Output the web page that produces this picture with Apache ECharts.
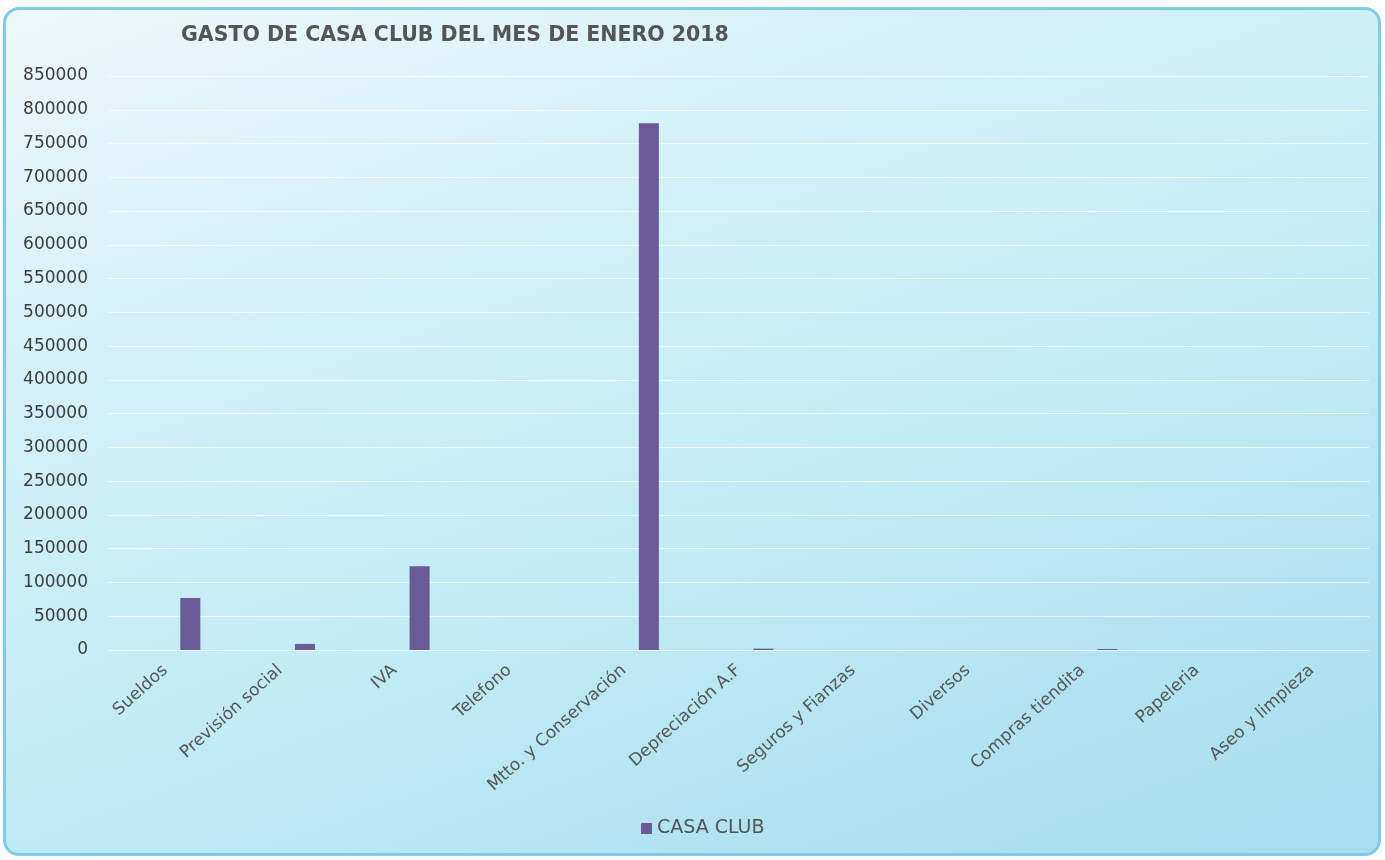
<!DOCTYPE html>
<html>
<head>
<meta charset="utf-8">
<script src="https://cdn.jsdelivr.net/npm/echarts@6/dist/echarts.min.js"></script>
<style>
html,body{margin:0;padding:0;background:#fdfdfd;width:1385px;height:860px;overflow:hidden;}
#frame{position:absolute;left:3px;top:7px;width:1372px;height:843px;border:3px solid #7fcbe3;border-radius:16px;
background:linear-gradient(160deg,#eef8fb 0%,#d6f1f8 25%,#c4ecf6 55%,#b2e3f2 80%,#a8ddef 100%);}
#chart{position:absolute;left:0;top:0;width:1385px;height:860px;}
</style>
</head>
<body>
<div id="frame"></div>
<div id="chart"></div>
<script>
const titleText = 'GASTO DE CASA CLUB DEL MES DE ENERO 2018';
const seriesName = 'CASA CLUB';
const categories = ['Sueldos','Previsión social','IVA','Telefono','Mtto. y Conservación','Depreciación A.F','Seguros y Fianzas','Diversos','Compras tiendita','Papeleria','Aseo y limpieza'];
const values = [77000, 9000, 124000, 0, 780000, 2000, 0, 0, 1500, 0, 0];
const yMax = 850000;
const yInterval = 50000;

const FONT = 'DejaVu Sans, Liberation Sans, Arial';
const chart = echarts.init(document.getElementById('chart'), null, {renderer:'canvas'});
chart.setOption({
  backgroundColor:'transparent',
  animation:false,
  title:{text:titleText,left:176,top:20,textStyle:{fontFamily:FONT,fontSize:20.5,fontWeight:'bold',color:'#555'}},
  legend:{data:[seriesName],bottom:17,left:636,icon:'rect',itemWidth:11,itemHeight:11,itemGap:5,
    textStyle:{fontFamily:FONT,fontSize:19,color:'#555'}},
  grid:{left:108,right:16,top:76,bottom:210,containLabel:false},
  xAxis:{type:'category',data:categories,
    axisLine:{show:false},axisTick:{show:false},
    axisLabel:{rotate:42,interval:0,margin:18,fontFamily:FONT,fontSize:17,color:'#555'}},
  yAxis:{type:'value',min:0,max:yMax,interval:yInterval,
    axisLine:{show:false},axisTick:{show:false},
    axisLabel:{margin:20,fontFamily:FONT,fontSize:17,color:'#3c3c3c',formatter:(v)=>String(v)},
    splitLine:{lineStyle:{color:'rgba(250,253,254,0.8)',width:1}}},
  series:[
    {name:'spacer',type:'bar',barWidth:20,barGap:'150%',data:categories.map(()=>null),silent:true},
    {name:seriesName,type:'bar',barWidth:20,data:values,itemStyle:{color:'#6a5a96'}}
  ]
});
</script>
</body>
</html>
